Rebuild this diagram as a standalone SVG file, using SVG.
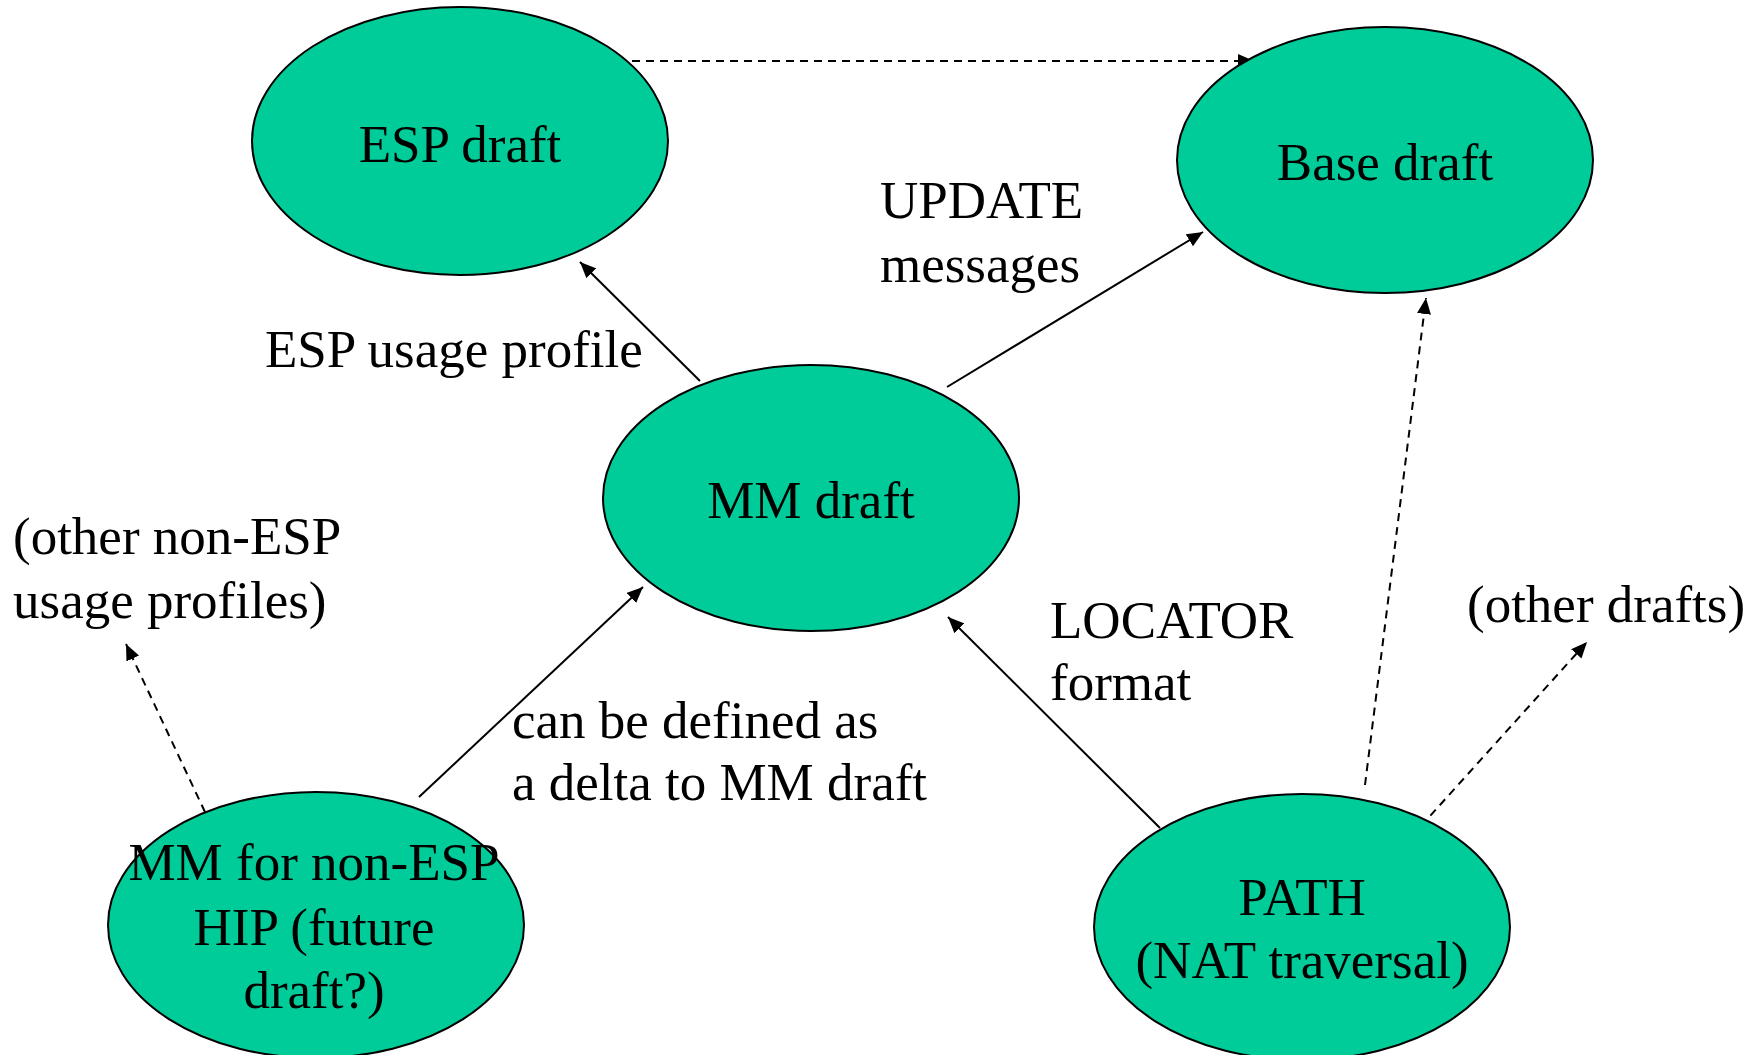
<svg xmlns="http://www.w3.org/2000/svg" width="1763" height="1055" viewBox="0 0 1763 1055">
<style>
.node{fill:#00CC99;stroke:#000;stroke-width:2}
.t{font-family:"Liberation Serif","Times New Roman",serif;font-size:53px;fill:#000}
.c{text-anchor:middle}
.e{stroke:#000;stroke-width:2;fill:none;marker-end:url(#ah)}
.d{stroke-dasharray:8 6}
</style>
<defs>
<marker id="ah" markerUnits="userSpaceOnUse" markerWidth="18" markerHeight="14" refX="16" refY="7" orient="auto">
<path d="M0,0 L16,7 L0,14 z" fill="#000"/>
</marker>
</defs>
<rect width="1763" height="1055" fill="#fff"/>
<g id="connectors">
<line class="e d" x1="632" y1="61" x2="1254" y2="61"/>
<line class="e" x1="700" y1="381" x2="580" y2="262"/>
<line class="e" x1="947" y1="387" x2="1203" y2="232"/>
<line class="e" x1="419" y1="797" x2="643" y2="587"/>
<line class="e d" x1="205" y1="812" x2="126" y2="644"/>
<line class="e" x1="1160" y1="828" x2="948" y2="617"/>
<line class="e d" x1="1365" y1="785" x2="1426" y2="298"/>
<line class="e d" x1="1421" y1="826" x2="1587" y2="642"/>
</g>
<g id="esp">
<ellipse class="node" cx="460" cy="141" rx="208" ry="134"/>
<text class="t c" x="460" y="162">ESP draft</text>
</g>
<g id="base">
<ellipse class="node" cx="1385" cy="160" rx="208" ry="133"/>
<text class="t c" x="1385" y="180">Base draft</text>
</g>
<g id="mm">
<ellipse class="node" cx="811" cy="498" rx="208" ry="133"/>
<text class="t c" x="811" y="518">MM draft</text>
</g>
<g id="nonesp">
<ellipse class="node" cx="316" cy="925" rx="208" ry="133"/>
<text class="t c" x="314" y="880">MM for non-ESP</text>
<text class="t c" x="314" y="945">HIP (future</text>
<text class="t c" x="314" y="1008">draft?)</text>
</g>
<g id="path">
<ellipse class="node" cx="1302" cy="927" rx="208" ry="133"/>
<text class="t c" x="1302" y="915">PATH</text>
<text class="t c" x="1302" y="978">(NAT traversal)</text>
</g>
<g id="labels">
<text class="t" x="880" y="218">UPDATE</text>
<text class="t" x="880" y="282">messages</text>
<text class="t" x="265" y="367">ESP usage profile</text>
<text class="t" x="13" y="554">(other non-ESP</text>
<text class="t" x="13" y="618">usage profiles)</text>
<text class="t" x="512" y="738">can be defined as</text>
<text class="t" x="512" y="800">a delta to MM draft</text>
<text class="t" x="1050" y="638">LOCATOR</text>
<text class="t" x="1050" y="700">format</text>
<text class="t" x="1467" y="622">(other drafts)</text>
</g>
</svg>
